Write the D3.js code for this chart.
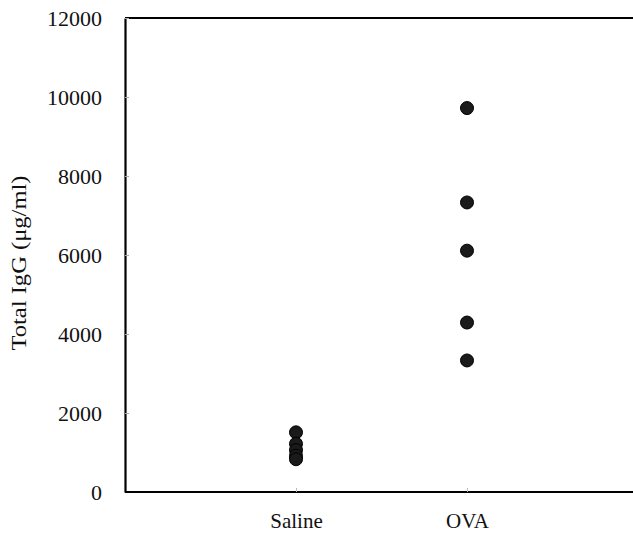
<!DOCTYPE html>
<html>
<head>
<meta charset="utf-8">
<script src="https://cdn.jsdelivr.net/npm/d3@7"></script>
<style>
  html, body { margin: 0; padding: 0; background: #fff; }
  svg { display: block; }
  svg text { font-family: "Liberation Serif", "Times New Roman", serif !important; fill: #111; }
</style>
</head>
<body>
<script>
// Total IgG per animal, by treatment group
const groups = ["Saline", "OVA"];
const salineValues = [1510, 1220, 1060, 920, 830];
const ovaValues = [9720, 7330, 6110, 4290, 3330];
const yTicks = [0, 2000, 4000, 6000, 8000, 10000, 12000];
const yLabel = "Total IgG (μg/ml)";

const W = 633, H = 537;
const plotLeft = 125, plotTop = 18, plotBottom = 492;

const svg = d3.select("body").append("svg")
  .attr("width", W).attr("height", H);

const x = d3.scalePoint().domain(groups).range([plotLeft, 638]).padding(1);
const y = d3.scaleLinear().domain([0, 12000]).range([plotBottom, plotTop]);

// top frame line
svg.append("line")
  .attr("x1", plotLeft).attr("x2", W)
  .attr("y1", y(12000)).attr("y2", y(12000))
  .attr("stroke", "#000").attr("stroke-width", 2);

// y axis: short faint ticks pointing into the plot
const yAxis = svg.append("g")
  .attr("transform", `translate(${plotLeft},0)`)
  .call(d3.axisLeft(y).tickValues(yTicks).tickSizeInner(-4).tickSizeOuter(0)
    .tickPadding(23).tickFormat(d3.format("d")))
  .attr("font-size", 22);
yAxis.select(".domain").attr("stroke", "#000").attr("stroke-width", 2.2);
yAxis.selectAll(".tick line").attr("stroke", "#aaa").attr("stroke-width", 1);

// x axis
const xAxis = svg.append("g")
  .attr("transform", `translate(0,${plotBottom})`)
  .call(d3.axisBottom(x).tickSizeInner(-4).tickSizeOuter(0).tickPadding(21))
  .attr("font-size", 21);
xAxis.select(".domain").attr("d", `M${plotLeft},0H${W}`)
  .attr("stroke", "#000").attr("stroke-width", 2.2);
xAxis.selectAll(".tick line").attr("stroke", "#bbb").attr("stroke-width", 1);

// y axis title
svg.append("text")
  .attr("transform", `translate(26,${(plotTop + plotBottom) / 2 + 8}) rotate(-90)`)
  .attr("text-anchor", "middle")
  .attr("font-size", 20)
  .attr("textLength", 175)
  .attr("lengthAdjust", "spacingAndGlyphs")
  .text(yLabel);

// data points
const series = [
  { group: "Saline", values: salineValues },
  { group: "OVA", values: ovaValues }
];
const pts = series.flatMap(s => s.values.map(v => ({ group: s.group, value: v })));
svg.append("g").selectAll("circle")
  .data(pts).join("circle")
  .attr("cx", d => x(d.group))
  .attr("cy", d => y(d.value))
  .attr("r", 6.5)
  .attr("fill", "#1a1a1a")
  .attr("stroke", "#000")
  .attr("stroke-width", 1);
</script>
</body>
</html>
